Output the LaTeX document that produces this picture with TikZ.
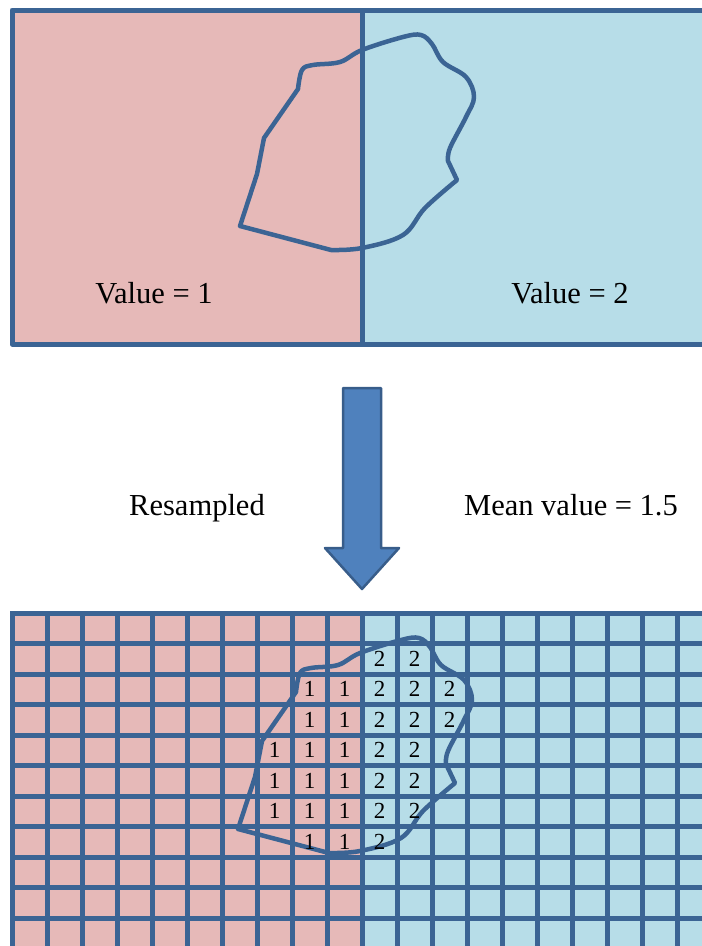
\documentclass[tikz,border=0pt]{standalone}
\usepackage{fontspec}
\setmainfont{Liberation Serif}
\usepackage{xcolor,tikz}
\usetikzlibrary{positioning,calc}
\definecolor{cellred}{HTML}{E6B9B8}
\definecolor{cellblue}{HTML}{B7DDE8}
\definecolor{edgeblue}{HTML}{3B6494}
\definecolor{arrowblue}{HTML}{4F81BD}
\definecolor{arrowedge}{HTML}{385D8A}

\begin{document}
\begin{tikzpicture}[x=1pt,y=-1pt,line join=round,border/.style={draw=edgeblue,line width=5pt},gridline/.style={edgeblue,line width=5pt},outline/.style={draw=edgeblue,line width=4.5pt},lbl/.style={inner sep=0pt,anchor=base,font=\fontsize{30.5}{36}\selectfont},digit/.style={inner sep=0pt,font=\fontsize{23}{26}\selectfont},bigarrow/.style={fill=arrowblue,draw=arrowedge,line width=2.5pt}]
\clip (0,0) rectangle (702,946);
% original polygons
\fill[cellred] (12,10) rectangle (362,344);\fill[cellblue] (362,10) rectangle (720,344);
% resampled grid
\fill[cellred] (12,613) rectangle (362,960);\fill[cellblue] (362,613) rectangle (720,960);
\foreach \i in {0,...,20} \draw[gridline] ({12+35*\i},613) -- ++(0,350);
\foreach \j in {0,...,11} \draw[gridline] (10,{613+30.5*\j}) -- (720,{613+30.5*\j});
% catchment outline, top and bottom
\foreach \dx/\dy in {0/0,-2/603} \draw[outline,shift={(\dx,\dy)}] (240,226) -- plot[smooth,tension=0.6] coordinates {(331,250) (362,248) (403,235) (425,208) (457,180)} -- plot[smooth,tension=0.6] coordinates {(448,161) (450,148) (466,117) (474,97) (466,77) (443,62) (432,44) (421,35) (403,37) (362,50) (340,62) (313,65) (302,70) (298,89)} -- (264,138) -- (257,174) -- cycle;
\draw[border] (720,10) -- (12,10) -- (12,344) -- (720,344);\draw[border] (362,10) -- (362,344);
\node[lbl] (v1) at (154,303) {Value = 1};
\node[lbl] (v2) at (570,303) {Value = 2};
% arrow
\draw[bigarrow] (343,388) -- (381,388) -- (381,548) -- (399,548) -- (362,589) -- (325,548) -- (343,548) -- cycle;
\node[lbl] (res) at (197,515) {Resampled};
\node[lbl] (mean) at (571,515) {Mean value = 1.5};
% cell values inside the outline
\foreach \r/\c/\v in {1/10/2,1/11/2,2/8/1,2/9/1,2/10/2,2/11/2,2/12/2,3/8/1,3/9/1,3/10/2,3/11/2,3/12/2,4/7/1,4/8/1,4/9/1,4/10/2,4/11/2,5/7/1,5/8/1,5/9/1,5/10/2,5/11/2,6/7/1,6/8/1,6/9/1,6/10/2,6/11/2,7/8/1,7/9/1,7/10/2}
  \node[digit] (d\r-\c) at ({29.5+35*\c},{628+30.5*\r}) {\v};
\end{tikzpicture}
\end{document}
